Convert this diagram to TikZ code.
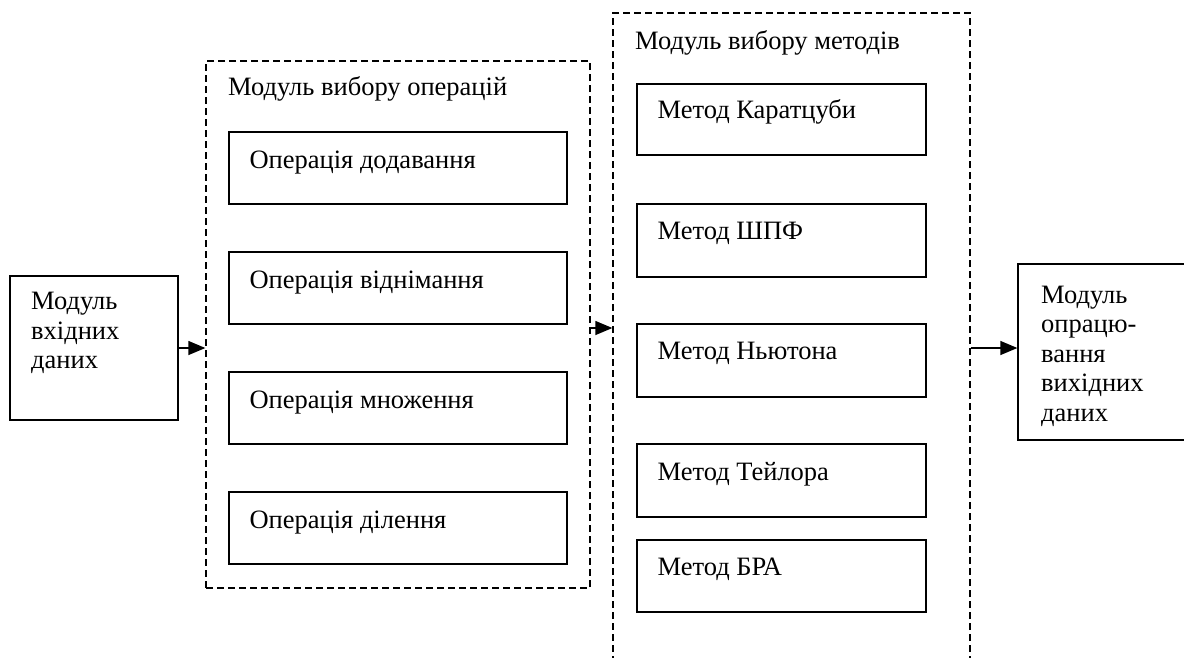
\documentclass[tikz,border=0pt]{standalone}
\usepackage{fontspec}
\setmainfont{Liberation Serif}
\usetikzlibrary{arrows.meta,calc}
\begin{document}
\begin{tikzpicture}[x=1pt,y=-1pt,
  every node/.style={font=\fontsize{26.5}{29.5}\selectfont},
  box/.style={draw,line width=1.3pt,inner sep=0pt,minimum height=72pt},
  opbox/.style={box,minimum width=338pt},
  mbox/.style={box,minimum width=289pt},
  group/.style={draw,line width=1.3pt,dash pattern=on 7pt off 4pt,inner sep=0pt},
  lbl/.style={anchor=base west,inner sep=0pt},
  mlbl/.style={anchor=north west,inner sep=0pt,align=left},
  arr/.style={line width=1.3pt,-{Triangle[length=17pt,width=14pt]}}
]
\useasboundingbox (0,0) rectangle (1184,657);
% input box
\node[box,minimum width=168pt,minimum height=144pt] (inbox) at (94,348) {};
\node[mlbl] (intxt) at (31,292) {Модуль\\вхідних\\даних};
% operations group
\node[group,minimum width=384pt,minimum height=527pt] (ops) at (398,324.5) {};
\node[lbl] (opstitle) at (228,95) {Модуль вибору операцій};
\node[opbox] (op1) at (398,168) {};
\node[opbox] (op2) at (398,288) {};
\node[opbox] (op3) at (398,408) {};
\node[opbox] (op4) at (398,528) {};
\node[lbl] at ($(op1.north west)+(21,37)$) {Операція додавання};
\node[lbl] at ($(op2.north west)+(21,37)$) {Операція віднімання};
\node[lbl] at ($(op3.north west)+(21,37)$) {Операція множення};
\node[lbl] at ($(op4.north west)+(21,37)$) {Операція ділення};
% methods group
\node[group,minimum width=357pt,minimum height=667pt] (meth) at (791.5,346.5) {};
\node[lbl] (methtitle) at (635,49) {Модуль вибору методів};
\node[mbox,minimum height=71pt] (m1) at (781.5,119.5) {};
\node[mbox,minimum height=73pt] (m2) at (781.5,240.5) {};
\node[mbox,minimum height=73pt] (m3) at (781.5,360.5) {};
\node[mbox,minimum height=73pt] (m4) at (781.5,480.5) {};
\node[mbox] (m5) at (781.5,576) {};
\node[lbl] at ($(m1.north west)+(21,35)$) {Метод Каратцуби};
\node[lbl] at ($(m2.north west)+(21,36)$) {Метод ШПФ};
\node[lbl] at ($(m3.north west)+(21,36)$) {Метод Ньютона};
\node[lbl] at ($(m4.north west)+(21,37)$) {Метод Тейлора};
\node[lbl] at ($(m5.north west)+(21,36)$) {Метод БРА};
% output box
\node[box,minimum width=182pt,minimum height=176pt] (outbox) at (1109,352) {};
\node[mlbl] (outtxt) at (1041,285.5) {Модуль\\опрацю-\\вання\\вихідних\\даних};
% connectors
\draw[arr] (inbox.east) -- (inbox.east -| ops.west);
\draw[arr] (ops.east |- 0,328) -- (meth.west |- 0,328);
\draw[arr] (meth.east |- inbox.east) -- (outbox.west |- inbox.east);
\end{tikzpicture}
\end{document}
